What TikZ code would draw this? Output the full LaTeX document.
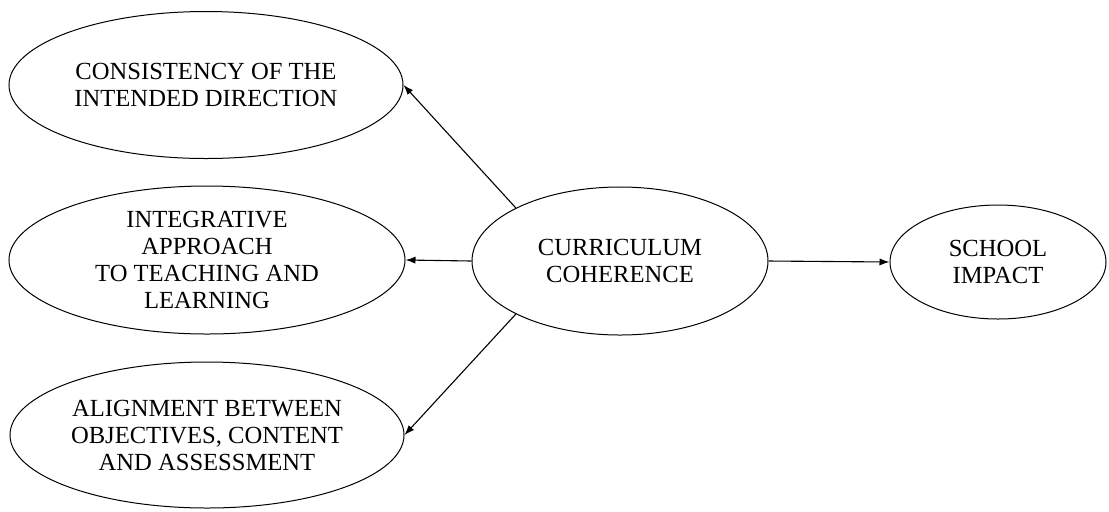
\documentclass[tikz,border=0pt]{standalone}
\usepackage{fontspec}
\setmainfont{Liberation Serif}
\usepackage{tikz}
\usetikzlibrary{arrows.meta}
\usetikzlibrary{shapes.geometric}
\tikzset{e/.style={draw,ellipse,line width=0.5pt,inner sep=0pt,align=center,font=\fontsize{12.3}{13.5}\selectfont}}
\tikzset{a/.style={-{Latex[length=5pt,width=3.6pt]},line width=0.55pt}}

\begin{document}
\begin{tikzpicture}[x=0.5pt,y=-0.5pt]
        \useasboundingbox (0,0) rectangle (1109,511);
        \node[e,minimum width=197pt,minimum height=73.5pt] (CID) at (206,85) {CONSISTENCY OF THE\\INTENDED DIRECTION};
        \node[e,minimum width=198pt,minimum height=74pt] (IA) at (207,260) {INTEGRATIVE\\APPROACH\\TO TEACHING AND\\LEARNING};
        \node[e,minimum width=197pt,minimum height=73pt] (AOC) at (207,435) {ALIGNMENT BETWEEN\\OBJECTIVES, CONTENT\\AND ASSESSMENT};
        \node[e,minimum width=108pt,minimum height=57pt] (SI) at (998,262) {SCHOOL\\IMPACT};
        \node[e,minimum width=148pt,minimum height=74pt] (CC) at (620,261) {CURRICULUM\\COHERENCE};
        \draw[a] (CC.153) -- (CID.east);
        \draw[a] (CC.west) -- (IA.east);
        \draw[a] (CC.207) -- (AOC.east);
        \draw[a] (CC.east) -- (SI.west);
      \end{tikzpicture}
\end{document}
